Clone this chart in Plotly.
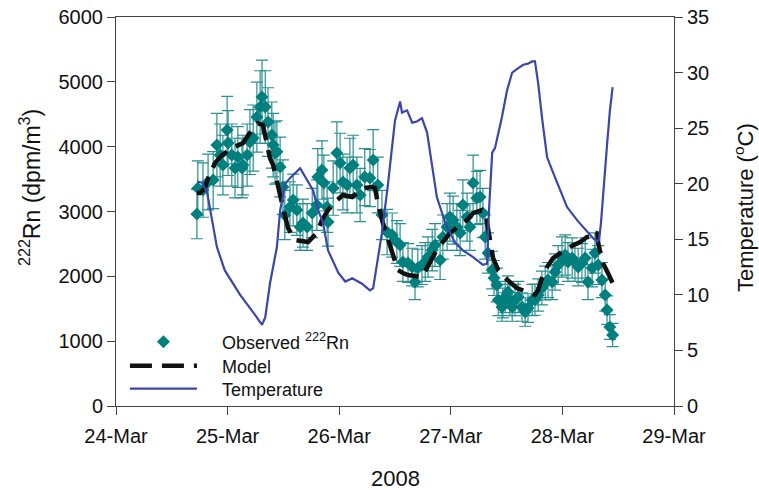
import pandas as pd
import plotly.graph_objects as go

BASE = pd.Timestamp("2008-03-24 00:00")

# Observed 222Rn (hours after 24-Mar 00:00, dpm/m3, error)
obs_hours = [17.4, 17.6, 18.7, 19.8, 20.9, 21.7, 22.4, 23.0, 23.9, 24.1,
             24.9, 25.6, 26.2, 27.1, 27.3, 28.2, 28.8, 29.5, 30.3, 31.0,
             31.4, 32.1, 32.7, 33.5, 33.8, 34.2, 34.6, 35.3, 35.9, 36.3,
             37.4, 38.1, 38.9, 39.6, 40.2, 41.1, 42.2, 43.2, 43.4, 44.3,
             44.7, 45.4, 45.6, 46.7, 47.5, 48.2, 48.8, 49.7, 50.3, 51.0,
             51.8, 52.5, 53.5, 54.6, 55.3, 56.3, 57.2, 58.3, 59.4, 60.4,
             61.1, 61.7, 62.8, 63.7, 64.3, 64.9, 65.8, 66.5, 67.1, 68.0,
             68.6, 69.7, 70.3, 71.2, 71.8, 72.5, 73.3, 74.0, 74.6, 75.5,
             76.1, 76.8, 77.6, 78.3, 78.9, 79.4, 80.0, 80.9, 81.3, 81.9,
             82.2, 83.0, 83.2, 83.7, 84.3, 84.7, 85.2, 85.8, 86.5, 87.3,
             88.0, 88.6, 89.5, 90.1, 90.8, 91.6, 92.3, 92.9, 93.8, 94.4,
             95.1, 95.9, 96.6, 97.2, 98.1, 98.7, 99.4, 100.2, 100.9, 101.5,
             102.4, 103.0, 103.7, 104.5, 105.2, 105.6, 106.2, 106.8]
obs_rn = [2960, 3360, 3331, 3454, 3485, 4025, 3870, 3716, 4256, 4055,
          3870, 3670, 3840, 3670, 3716, 3870, 4071, 4133, 4456, 4611,
          4765, 4611, 4379, 4179, 4025, 3901, 3920, 3686, 3377, 2945,
          3069, 3177, 3022, 2760, 2822, 2760, 2976, 3099, 3531, 3639,
          3438, 3069, 2837, 3362, 3901, 3747, 3454, 3408, 3670, 3716,
          3408, 3254, 3531, 3516, 3793, 3408, 2945, 2683, 2637, 2529,
          2483, 2221, 2205, 2143, 1912, 2128, 2174, 2221, 2298, 2405,
          2483, 2251, 2606, 2760, 2914, 2868, 2760, 2668, 3099, 2914,
          2760, 3438, 3207, 3223, 2976, 2606, 2359, 2097, 1974, 1866,
          1635, 1527, 1589, 1681, 1758, 1635, 1527, 1635, 1681, 1527,
          1450, 1511, 1635, 1640, 1712, 1820, 1897, 1943, 1912, 2066,
          2174, 2298, 2328, 2221, 2282, 2221, 2143, 2205, 2282, 1912,
          2128, 2359, 2174, 1943, 1712, 1480, 1218, 1095]
obs_err = [380, 420, 420, 430, 440, 490, 480, 460, 520, 500,
           480, 460, 470, 460, 460, 480, 500, 510, 540, 560,
           570, 560, 530, 510, 490, 480, 480, 460, 420, 380,
           390, 400, 390, 360, 370, 360, 380, 390, 440, 450,
           430, 390, 370, 420, 480, 460, 430, 430, 460, 460,
           430, 410, 440, 440, 470, 430, 380, 350, 340, 330,
           330, 300, 300, 290, 270, 290, 300, 300, 310, 320,
           330, 300, 340, 360, 370, 370, 360, 350, 390, 370,
           360, 430, 410, 410, 380, 340, 310, 290, 270, 260,
           240, 220, 230, 240, 250, 240, 220, 240, 240, 220,
           220, 220, 240, 240, 250, 260, 260, 270, 270, 280,
           300, 310, 310, 300, 310, 300, 290, 300, 310, 270,
           290, 310, 300, 270, 250, 220, 190, 180]

# Model 222Rn
model_hours = [17.4, 18.1, 19.1, 19.8, 21.3, 22.8, 24.9, 27.3, 29.2, 30.5,
               31.6, 32.5, 33.1, 33.8, 34.6, 35.3, 36.3, 37.0, 38.5, 41.3,
               43.2, 44.3, 45.6, 47.1, 48.8, 50.8, 52.0, 53.5, 55.1, 55.7,
               56.3, 57.4, 58.5, 59.6, 60.6, 61.7, 62.8, 65.8, 67.5, 68.6,
               70.1, 71.8, 73.5, 75.5, 76.8, 78.7, 79.4, 80.0, 80.4, 81.1,
               82.2, 83.7, 86.2, 88.4, 90.1, 90.8, 91.6, 92.7, 94.0, 95.9,
               97.6, 99.8, 101.3, 102.6, 103.5, 103.7, 104.1, 104.7, 105.8, 106.8]
model_rn = [3284, 3284, 3360, 3515, 3747, 3870, 3978, 4055, 4256, 4364,
            4333, 4025, 3824, 3716, 3454, 3207, 2945, 2745, 2560, 2529,
            2668, 2868, 3022, 3146, 3254, 3223, 3300, 3362, 3377, 3360,
            3130, 2822, 2560, 2298, 2097, 2051, 2020, 1989, 2205, 2359,
            2513, 2668, 2760, 2868, 2976, 3022, 2991, 2714, 2530, 2282,
            2097, 1974, 1820, 1758, 1712, 1789, 1974, 2143, 2282, 2375,
            2452, 2529, 2606, 2606, 2683, 2513, 2405, 2205, 2051, 1897]

# Temperature (deg C)
temp_hours = [17.4, 18.5, 19.6, 20.7, 21.7, 23.4, 26.7, 29.9, 31.4, 32.1,
              33.1, 34.6, 35.3, 36.4, 37.4, 39.6, 41.1, 42.4, 43.5, 44.5,
              45.6, 47.8, 49.3, 50.8, 52.9, 54.6, 55.3, 57.2, 58.5, 60.0,
              61.1, 61.5, 62.6, 63.7, 64.7, 65.8, 66.9, 68.0, 69.0, 70.8,
              72.9, 74.6, 76.8, 78.9, 79.8, 80.2, 80.9, 81.5, 83.0, 84.1,
              85.2, 86.5, 87.6, 88.6, 89.5, 90.1, 90.8, 91.6, 92.7, 94.0,
              95.5, 97.0, 99.2, 101.3, 102.6, 103.5, 103.9, 104.3, 104.9, 105.6,
              106.2, 106.6, 106.8]
temp_c = [20.2, 20.1, 19.2, 16.7, 14.3, 12.2, 10.0, 8.2, 7.3, 8.0,
          11.0, 14.3, 17.6, 20.0, 20.5, 21.4, 20.3, 19.4, 17.6, 16.5,
          14.0, 12.0, 11.2, 11.5, 11.0, 10.4, 10.6, 15.6, 20.0, 25.7,
          27.4, 26.4, 26.6, 25.5, 25.6, 25.9, 24.6, 21.5, 18.8, 16.5,
          14.7, 14.0, 13.4, 12.7, 12.8, 17.5, 22.8, 23.2, 26.0, 28.4,
          30.0, 30.4, 30.7, 30.8, 31.0, 31.0, 29.0, 26.0, 22.4, 21.0,
          19.4, 17.9, 16.7, 15.7, 15.1, 14.8, 15.0, 16.5, 20.0, 23.5,
          26.5, 27.8, 28.7]

x_ticks = ["2008-03-24", "2008-03-25", "2008-03-26", "2008-03-27", "2008-03-28", "2008-03-29"]
x_tick_labels = ["24-Mar", "25-Mar", "26-Mar", "27-Mar", "28-Mar", "29-Mar"]


def to_time(hours):
    return [BASE + pd.Timedelta(hours=h) for h in hours]


FONT = "Liberation Sans, Arial, sans-serif"
TEAL = "#007f7f"
BLUE = "#3a46a8"
PAD = "\u00a0\u00a0\u00a0\u00a0"

fig = go.Figure()
fig.add_trace(go.Scatter(
    x=to_time(obs_hours), y=obs_rn, mode="markers",
    name=PAD + "Observed <sup>222</sup>Rn", legend="legend",
    marker=dict(symbol="diamond", size=10, color=TEAL, line=dict(width=0)),
    error_y=dict(type="data", array=obs_err, visible=True,
                 color="#2a8f8f", thickness=1.2, width=6),
))
fig.add_trace(go.Scatter(
    x=to_time(model_hours), y=model_rn, mode="lines", name=PAD + "Model",
    legend="legend2",
    line=dict(color="#111111", width=4.5, dash="22px,10px"),
))
fig.add_trace(go.Scatter(
    x=to_time(temp_hours), y=temp_c, mode="lines", name=PAD + "Temperature",
    legend="legend3",
    yaxis="y2", line=dict(color=BLUE, width=2.2),
))

axis_common = dict(
    showline=True, linecolor="#444444", linewidth=1,
    ticks="outside", ticklen=8, tickcolor="#444444",
    showgrid=False, zeroline=False, automargin=False,
    tickfont=dict(family=FONT, size=20, color="#111111"),
)

legend_common = dict(
    x=0.016, xanchor="left", yanchor="middle",
    bgcolor="rgba(0,0,0,0)", borderwidth=0,
    font=dict(family=FONT, size=18, color="#111111"),
    itemwidth=67,
)

L, R, T, B = 116, 85, 17, 84
PW = 759 - L - R
PH = 490 - T - B


def px_x(px):
    return (px - L) / PW


def px_y(py):
    return (490 - B - py) / PH


fig.update_layout(
    width=759, height=490,
    margin=dict(l=L, r=R, t=T, b=B),
    paper_bgcolor="white", plot_bgcolor="white",
    font=dict(family=FONT, color="#111111"),
    showlegend=True,
    legend=dict(y=px_y(342), **legend_common),
    legend2=dict(y=px_y(366), **legend_common),
    legend3=dict(y=px_y(389), **legend_common),
    xaxis=dict(
        type="date",
        range=["2008-03-24", "2008-03-29"],
        tickvals=x_ticks, ticktext=x_tick_labels,
        mirror=True, ticklabelstandoff=4,
        **axis_common,
    ),
    yaxis=dict(
        range=[0, 6000], tickvals=[0, 1000, 2000, 3000, 4000, 5000, 6000],
        **axis_common,
    ),
    yaxis2=dict(
        range=[0, 35], tickvals=[0, 5, 10, 15, 20, 25, 30, 35],
        overlaying="y", side="right",
        **axis_common,
    ),
    annotations=[
        dict(text="<sup>222</sup>Rn (dpm/m<sup>3</sup>)", xref="paper", yref="paper",
             x=px_x(30), y=px_y(188), textangle=-90, showarrow=False,
             xanchor="center", yanchor="middle",
             font=dict(family=FONT, size=23, color="#111111")),
        dict(text="Temperature (<sup>o</sup>C)", xref="paper", yref="paper",
             x=px_x(744), y=px_y(208), textangle=-90, showarrow=False,
             xanchor="center", yanchor="middle",
             font=dict(family=FONT, size=22, color="#111111")),
        dict(text="2008", xref="paper", yref="paper",
             x=px_x(395), y=px_y(478), showarrow=False,
             xanchor="center", yanchor="middle",
             font=dict(family=FONT, size=22, color="#111111")),
    ],
)

fig.write_html("out.html")
